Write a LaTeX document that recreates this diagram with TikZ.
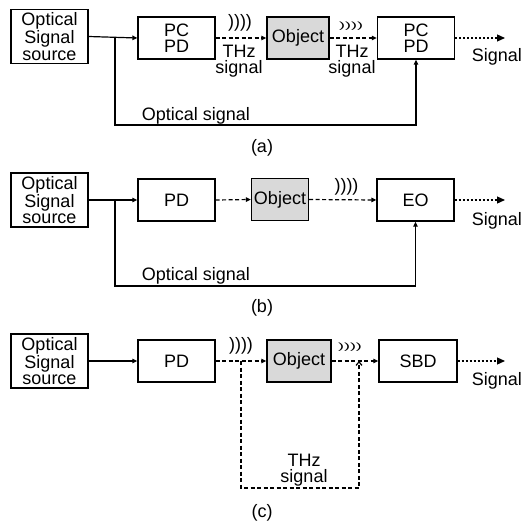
\documentclass[tikz,border=0pt]{standalone}
\usepackage{fontspec}
\setmainfont{Liberation Sans}
\usetikzlibrary{arrows.meta}
\definecolor{objgray}{RGB}{217,217,217}
\begin{document}
\begin{tikzpicture}[x=1pt,y=-1pt,
  font=\fontsize{18}{16.5}\selectfont,
  box/.style={draw, line width=1.3pt, inner sep=0pt, minimum height=42pt, minimum width=77pt, align=center},
  srcbox/.style={box, minimum height=54pt},
  objbox/.style={box, fill=objgray, minimum width=62pt},
  conn/.style={line width=1.2pt},
  solidarr/.style={conn, -{Triangle[length=5pt,width=4.5pt]}},
  dasharr/.style={conn, dash pattern=on 4pt off 2.5pt, -{Triangle[length=5pt,width=4.5pt]}},
  dotarr/.style={conn, dash pattern=on 2pt off 2pt, -{Triangle[length=8pt,width=7pt]}},
  dashline/.style={conn, dash pattern=on 4pt off 2.5pt},
  txt/.style={inner sep=0pt, align=center},
  wavebig/.style={inner sep=0pt, font=\fontsize{18}{18}\selectfont},
  wavesmall/.style={inner sep=0pt, font=\fontsize{18}{18}\selectfont, yscale=0.5}
]
\useasboundingbox (0,0) rectangle (522,524);

% ---------- (a) ----------
\node[srcbox] (srcA) at (49.5,36.5) {Optical\\Signal\\source};
\node[box] (pcA) at (176.5,38) {PC\\PD};
\node[objbox] (objA) at (298,38) {Object};
\node[box] (pcA2) at (416,38) {PC\\PD};
\coordinate (brA) at (115,38);
\coordinate (loA) at (115,125);
\coordinate (sigA) at (505,38);
\draw[solidarr] (srcA.east) -- (pcA.west);
\draw[solidarr] (brA) -- (loA) -| (pcA2.south);
\draw[dasharr] (pcA.east) -- (objA.west);
\draw[dasharr] (objA.east) -- (pcA2.west);
\draw[dotarr] (pcA2.east) -- (sigA);
\node[wavebig] (wA1) at (240,23) {))))};
\node[wavesmall] (wA2) at (351,26) {))))};
\node[txt] (thzA1) at (239,61) {THz\\signal};
\node[txt] (thzA2) at (352,61) {THz\\signal};
\node[txt, anchor=east] (sgA) at (522,57) {Signal};
\node[txt] (optA) at (196,116) {Optical signal};
\node[txt] (labA) at (262,148) {(a)};

% ---------- (b) ----------
\node[srcbox] (srcB) at (49.5,200) {Optical\\Signal\\source};
\node[box] (pdB) at (176.5,200) {PD};
\node[objbox, minimum width=57pt] (objB) at (280,199.5) {Object};
\node[box] (eoB) at (415.5,200) {EO};
\coordinate (brB) at (115,200);
\coordinate (loB) at (115,286);
\coordinate (sigB) at (505,200);
\draw[solidarr] (srcB.east) -- (pdB.west);
\draw[solidarr] (brB) -- (loB) -| (eoB.south);
\draw[dasharr] (pdB.east) -- (objB.west);
\draw[dasharr] (objB.east) -- (eoB.west);
\draw[dotarr] (eoB.east) -- (sigB);
\node[wavebig] (wB) at (346.5,187) {))))};
\node[txt, anchor=east] (sgB) at (522,221) {Signal};
\node[txt] (optB) at (196,276) {Optical signal};
\node[txt] (labB) at (262,308) {(b)};

% ---------- (c) ----------
\node[srcbox] (srcC) at (49.5,361) {Optical\\Signal\\source};
\node[box] (pdC) at (176.5,361) {PD};
\node[objbox, minimum width=64pt] (objC) at (299,361) {Object};
\node[box, minimum width=78pt] (sbdC) at (418,361) {SBD};
\coordinate (brC) at (241,361);
\coordinate (loC) at (241,488);
\coordinate (upC) at (359,361);
\coordinate (sigC) at (505,361);
\draw[solidarr] (srcC.east) -- (pdC.west);
\draw[dasharr] (pdC.east) -- (objC.west);
\draw[dasharr] (objC.east) -- (sbdC.west);
\draw[dotarr] (sbdC.east) -- (sigC);
\draw[dashline, -{Straight Barb[length=3.5pt,width=6pt]}] (brC) -- (loC) -| (upC);
\node[wavebig] (wC1) at (241,346) {))))};
\node[wavesmall] (wC2) at (350,347) {))))};
\node[txt] (thzC) at (304,470) {THz\\signal};
\node[txt, anchor=east] (sgC) at (522,381) {Signal};
\node[txt] (labC) at (262,513) {(c)};
\end{tikzpicture}
\end{document}
